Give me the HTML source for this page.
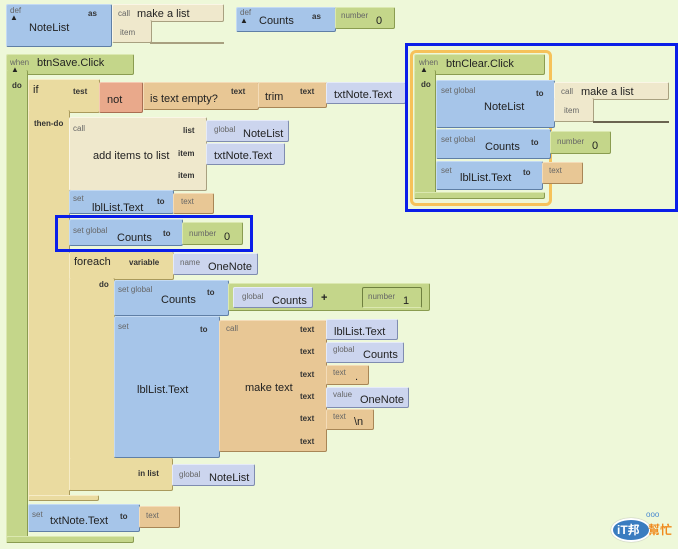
<!DOCTYPE html>
<html><head><meta charset="utf-8"><style>
*{margin:0;padding:0;box-sizing:border-box}
body{width:678px;height:549px;background:#eef8d9;position:relative;overflow:hidden;font-family:"Liberation Sans",Arial,sans-serif;color:#222}
.b{position:absolute;border:1px solid;border-radius:2px}
.bl{background:#a6c5e9;border-color:#c4daf3 #5f7fa6 #5f7fa6 #c4daf3}
.gr{background:#c4d68a;border-color:#dbe8b0 #8a9c50 #8a9c50 #dbe8b0}
.tn{background:#e8c795;border-color:#f4dcb8 #a88656 #a88656 #f4dcb8}
.lv{background:#ccd5ee;border-color:#e6ebf8 #7f8cb0 #7f8cb0 #e6ebf8}
.cr{background:#efe8cc;border-color:#faf6e6 #a8a080 #a8a080 #faf6e6}
.kh{background:#eadba0;border-color:#f6ecc6 #a99a5c #a99a5c #f6ecc6}
.rd{background:#e9a98b;border-color:#f5c9b2 #a96e52 #a96e52 #f5c9b2}
.t{position:absolute;white-space:nowrap;font-size:11px}
.s{position:absolute;white-space:nowrap;font-size:8px;color:#666}
.k{position:absolute;white-space:nowrap;font-size:8px;color:#333;font-weight:bold}
.hl{position:absolute;border:3px solid #0a1ee8}
</style></head><body>

<!-- def NoteList -->
<div class="b bl" style="left:6px;top:4px;width:106px;height:43px"></div>
<div class="s" style="left:10px;top:6px">def</div><div class="t" style="left:10px;top:13px;font-size:8px">▲</div>
<div class="t" style="left:29px;top:22px">NoteList</div><div class="k" style="left:88px;top:9px">as</div>
<div class="b cr" style="left:112px;top:4px;width:112px;height:18px"></div>
<div class="b cr" style="left:112px;top:20px;width:40px;height:23px;border-top:none"></div>
<div style="position:absolute;left:150px;top:42px;width:74px;height:2px;background:#a8a080"></div>
<div class="s" style="left:118px;top:9px">call</div><div class="t" style="left:137px;top:8px">make a list</div>
<div class="s" style="left:120px;top:28px">item</div>

<!-- def Counts -->
<div class="b bl" style="left:236px;top:7px;width:100px;height:25px"></div>
<div class="s" style="left:240px;top:8px">def</div><div class="t" style="left:240px;top:16px;font-size:8px">▲</div>
<div class="t" style="left:259px;top:15px">Counts</div><div class="k" style="left:312px;top:12px">as</div>
<div class="b gr" style="left:335px;top:7px;width:60px;height:22px"></div>
<div class="s" style="left:341px;top:11px">number</div><div class="t" style="left:376px;top:15px">0</div>

<!-- btnSave.Click -->
<div class="b gr" style="left:6px;top:54px;width:128px;height:21px"></div>
<div class="b gr" style="left:6px;top:70px;width:22px;height:473px;border-top:none"></div>
<div class="b gr" style="left:6px;top:536px;width:128px;height:7px"></div>
<div class="s" style="left:10px;top:58px">when</div><div class="t" style="left:11px;top:65px;font-size:8px">▲</div>
<div class="t" style="left:37px;top:57px">btnSave.Click</div><div class="k" style="left:12px;top:81px">do</div>

<!-- if -->
<div class="b kh" style="left:28px;top:79px;width:72px;height:34px"></div>
<div class="b kh" style="left:28px;top:110px;width:42px;height:391px;border-top:none"></div>
<div class="b kh" style="left:28px;top:495px;width:71px;height:6px"></div>
<div class="t" style="left:33px;top:84px">if</div><div class="k" style="left:73px;top:87px">test</div>
<div class="k" style="left:34px;top:119px">then-do</div>
<div class="b rd" style="left:99px;top:82px;width:44px;height:31px"></div><div class="t" style="left:107px;top:94px">not</div>
<div class="b tn" style="left:143px;top:82px;width:116px;height:28px"></div><div class="t" style="left:150px;top:93px">is text empty?</div><div class="k" style="left:231px;top:87px">text</div>
<div class="b tn" style="left:258px;top:82px;width:69px;height:26px"></div><div class="t" style="left:265px;top:91px">trim</div><div class="k" style="left:300px;top:87px">text</div>
<div class="b lv" style="left:326px;top:82px;width:80px;height:22px"></div><div class="t" style="left:334px;top:89px">txtNote.Text</div>

<!-- add items -->
<div class="b cr" style="left:69px;top:117px;width:138px;height:74px"></div>
<div class="s" style="left:73px;top:124px">call</div><div class="t" style="left:93px;top:150px">add items to list</div>
<div class="k" style="left:183px;top:126px">list</div><div class="k" style="left:178px;top:149px">item</div><div class="k" style="left:178px;top:171px">item</div>
<div class="b lv" style="left:206px;top:120px;width:83px;height:22px"></div><div class="s" style="left:214px;top:125px">global</div><div class="t" style="left:243px;top:128px">NoteList</div>
<div class="b lv" style="left:206px;top:143px;width:79px;height:22px"></div><div class="t" style="left:214px;top:150px">txtNote.Text</div>

<!-- set lblList.Text -->
<div class="b bl" style="left:69px;top:190px;width:105px;height:24px"></div><div class="s" style="left:73px;top:194px">set</div><div class="t" style="left:92px;top:202px">lblList.Text</div><div class="k" style="left:157px;top:197px">to</div>
<div class="b tn" style="left:173px;top:193px;width:41px;height:21px"></div><div class="s" style="left:181px;top:197px">text</div>

<!-- set global Counts -->
<div class="b bl" style="left:69px;top:219px;width:114px;height:27px"></div><div class="s" style="left:73px;top:226px">set global</div><div class="t" style="left:117px;top:232px">Counts</div><div class="k" style="left:163px;top:229px">to</div>
<div class="b gr" style="left:182px;top:222px;width:61px;height:23px"></div><div class="s" style="left:189px;top:229px">number</div><div class="t" style="left:224px;top:231px">0</div>
<div class="hl" style="left:55px;top:215px;width:198px;height:37px"></div>

<!-- foreach -->
<div class="b kh" style="left:69px;top:252px;width:105px;height:28px;border-top:none"></div>
<div class="b kh" style="left:69px;top:278px;width:46px;height:213px;border-top:none"></div>
<div class="b kh" style="left:69px;top:458px;width:104px;height:33px;border-top:none"></div>
<div class="t" style="left:74px;top:256px">foreach</div><div class="k" style="left:129px;top:258px">variable</div><div class="k" style="left:99px;top:280px">do</div>
<div class="b lv" style="left:173px;top:253px;width:85px;height:22px"></div><div class="s" style="left:180px;top:258px">name</div><div class="t" style="left:208px;top:261px">OneNote</div>
<div class="k" style="left:138px;top:469px">in list</div>
<div class="b lv" style="left:172px;top:464px;width:83px;height:22px"></div><div class="s" style="left:179px;top:470px">global</div><div class="t" style="left:209px;top:472px">NoteList</div>

<!-- do: set global Counts + -->
<div class="b bl" style="left:114px;top:280px;width:115px;height:36px"></div><div class="s" style="left:118px;top:285px">set global</div><div class="t" style="left:161px;top:294px">Counts</div><div class="k" style="left:207px;top:288px">to</div>
<div class="b gr" style="left:228px;top:283px;width:202px;height:28px"></div>
<div class="b lv" style="left:233px;top:287px;width:80px;height:21px"></div><div class="s" style="left:242px;top:292px">global</div><div class="t" style="left:272px;top:295px">Counts</div>
<div class="t" style="left:321px;top:292px;font-weight:bold">+</div>
<div class="b gr" style="left:362px;top:287px;width:60px;height:21px;border-color:#6f8040 #6f8040 #dbe8b0 #6f8040"></div><div class="s" style="left:368px;top:292px">number</div><div class="t" style="left:403px;top:295px">1</div>

<!-- set lblList.Text make text -->
<div class="b bl" style="left:114px;top:316px;width:106px;height:142px"></div><div class="s" style="left:118px;top:322px">set</div><div class="t" style="left:137px;top:384px">lblList.Text</div><div class="k" style="left:200px;top:325px">to</div>
<div class="b tn" style="left:219px;top:320px;width:108px;height:132px"></div><div class="s" style="left:226px;top:324px">call</div><div class="t" style="left:245px;top:382px">make text</div>
<div class="k" style="left:300px;top:325px">text</div><div class="k" style="left:300px;top:347px">text</div><div class="k" style="left:300px;top:370px">text</div><div class="k" style="left:300px;top:392px">text</div><div class="k" style="left:300px;top:414px">text</div><div class="k" style="left:300px;top:437px">text</div>
<div class="b lv" style="left:326px;top:319px;width:72px;height:21px"></div><div class="t" style="left:334px;top:326px">lblList.Text</div>
<div class="b lv" style="left:326px;top:342px;width:78px;height:21px"></div><div class="s" style="left:333px;top:345px">global</div><div class="t" style="left:363px;top:349px">Counts</div>
<div class="b tn" style="left:326px;top:365px;width:43px;height:20px"></div><div class="s" style="left:333px;top:368px">text</div><div class="t" style="left:355px;top:371px">.</div>
<div class="b tn" style="left:326px;top:409px;width:48px;height:21px"></div><div class="s" style="left:333px;top:412px">text</div><div class="t" style="left:354px;top:416px">\n</div>
<div class="b lv" style="left:326px;top:387px;width:83px;height:21px"></div><div class="s" style="left:333px;top:390px">value</div><div class="t" style="left:360px;top:394px">OneNote</div>

<!-- set txtNote.Text -->
<div class="b bl" style="left:28px;top:504px;width:112px;height:28px"></div><div class="s" style="left:32px;top:510px">set</div><div class="t" style="left:50px;top:515px">txtNote.Text</div><div class="k" style="left:120px;top:512px">to</div>
<div class="b tn" style="left:139px;top:506px;width:41px;height:22px"></div><div class="s" style="left:146px;top:511px">text</div>

<!-- btnClear -->
<div class="hl" style="left:405px;top:43px;width:273px;height:169px"></div>
<div style="position:absolute;left:410px;top:50px;width:142px;height:156px;border:3px solid #f6c25a;border-radius:6px;background:transparent"></div>
<div class="b gr" style="left:414px;top:54px;width:131px;height:21px"></div>
<div class="b gr" style="left:414px;top:70px;width:22px;height:129px;border-top:none"></div>
<div class="b gr" style="left:414px;top:192px;width:131px;height:7px"></div>
<div class="s" style="left:419px;top:58px">when</div><div class="t" style="left:420px;top:65px;font-size:8px">▲</div>
<div class="t" style="left:446px;top:58px">btnClear.Click</div><div class="k" style="left:421px;top:80px">do</div>
<div class="b bl" style="left:436px;top:80px;width:119px;height:48px"></div><div class="s" style="left:441px;top:86px">set global</div><div class="t" style="left:484px;top:101px">NoteList</div><div class="k" style="left:536px;top:89px">to</div>
<div class="b cr" style="left:554px;top:82px;width:115px;height:18px"></div>
<div class="b cr" style="left:554px;top:98px;width:40px;height:24px;border-top:none"></div>
<div style="position:absolute;left:593px;top:121px;width:76px;height:2px;background:#6a6450"></div>
<div class="s" style="left:561px;top:87px">call</div><div class="t" style="left:581px;top:86px">make a list</div><div class="s" style="left:564px;top:106px">item</div>
<div class="b bl" style="left:436px;top:129px;width:115px;height:30px"></div><div class="s" style="left:441px;top:135px">set global</div><div class="t" style="left:485px;top:141px">Counts</div><div class="k" style="left:531px;top:138px">to</div>
<div class="b gr" style="left:550px;top:131px;width:61px;height:23px"></div><div class="s" style="left:557px;top:137px">number</div><div class="t" style="left:592px;top:140px">0</div>
<div class="b bl" style="left:436px;top:161px;width:107px;height:29px"></div><div class="s" style="left:441px;top:166px">set</div><div class="t" style="left:460px;top:172px">lblList.Text</div><div class="k" style="left:523px;top:168px">to</div>
<div class="b tn" style="left:542px;top:162px;width:41px;height:22px"></div><div class="s" style="left:549px;top:166px">text</div>

<!-- logo -->
<div style="position:absolute;left:611px;top:518px;width:40px;height:24px;border-radius:50%;background:#3a7cc0;border:2px solid #fff;box-shadow:0 0 1px #888"></div>
<div class="t" style="left:617px;top:521px;color:#fff;font-weight:bold;font-size:12px;font-family:'Liberation Sans','Noto Sans CJK TC',sans-serif">iT邦</div>
<div class="t" style="left:648px;top:521px;color:#f08a1c;font-weight:bold;font-size:12px;font-family:'Liberation Sans','Noto Sans CJK TC',sans-serif">幫忙</div>
<div class="t" style="left:646px;top:510px;color:#4a8ad0;font-size:8px">ооо</div>
</body></html>
